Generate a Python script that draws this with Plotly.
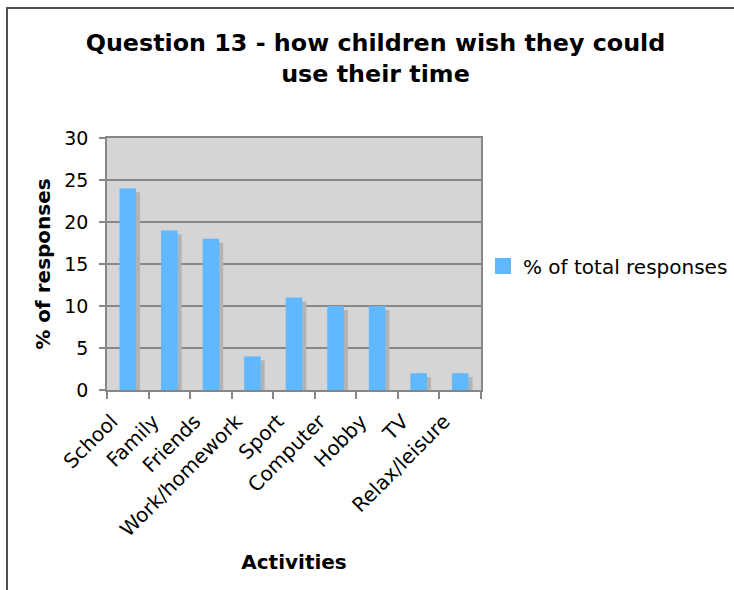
import plotly.graph_objects as go

categories = ["School", "Family", "Friends", "Work/homework", "Sport",
              "Computer", "Hobby", "TV", "Relax/leisure"]
values = [24, 19, 18, 4, 11, 10, 10, 2, 2]
series_name = "% of total responses"
y_ticks = [0, 5, 10, 15, 20, 25, 30]

W, H = 734, 590
L, R, T, B = 107, 253, 138, 200
pw, ph = W - L - R, H - T - B

FONT = "DejaVu Sans, Verdana, sans-serif"
BAR = "#60b8ff"
SHADOW = "#b3b3b3"
BG = "#d5d5d5"
GRID = "#878787"

fig = go.Figure()
# drop shadow behind bars (same values, shifted)
fig.add_trace(go.Bar(
    x=categories, y=values, base=-0.47, width=0.4, offset=-0.104,
    marker=dict(color=SHADOW, line=dict(width=0)),
    showlegend=False, hoverinfo="skip"))
fig.add_trace(go.Bar(
    x=categories, y=values, width=0.4, offset=-0.2, name=series_name,
    marker=dict(color=BAR, line=dict(width=0)), showlegend=False,
    legendgroup="s"))
# legend entry with a larger square swatch
fig.add_trace(go.Scatter(
    x=[None], y=[None], mode="markers", name=series_name, legendgroup="s",
    marker=dict(symbol="square", size=16, color=BAR), showlegend=True))

def px_x(p):
    return (p - L) / pw

def px_y(p):
    return (H - B - p) / ph

fig.update_layout(
    width=W, height=H,
    margin=dict(l=L, r=R, t=T, b=B, autoexpand=False),
    barmode="overlay",
    paper_bgcolor="white", plot_bgcolor=BG,
    font=dict(family=FONT, color="black", size=19),
    title=dict(text="<b>Question 13 - how children wish they could<br>use their time</b>",
               x=px_x(375.5), xref="paper", xanchor="center",
               y=1 - 51 / H, yref="container", yanchor="middle",
               font=dict(family=FONT, size=23.8, color="black")),
    legend=dict(x=px_x(483), xanchor="left", y=px_y(266), yanchor="middle",
                font=dict(family=FONT, size=20), bgcolor="rgba(0,0,0,0)"),
    showlegend=True,
    xaxis=dict(
        type="category", range=[-0.5, len(categories) - 0.5],
        tickangle=-45, tickfont=dict(size=20), tickson="boundaries",
        ticks="outside", ticklen=7, tickcolor=GRID, tickwidth=1.5,
        ticklabelstandoff=10, ticklabelshift=-16,
        showline=True, linecolor=GRID, linewidth=1.5, mirror=True,
        showgrid=False,
        title=dict(text="<b>Activities</b>", font=dict(size=20), standoff=15),
    ),
    yaxis=dict(
        range=[0, 30], tickvals=y_ticks, ticks="outside", ticklen=6,
        tickcolor=GRID, tickwidth=1.5, tickfont=dict(size=19),
        ticklabelstandoff=7,
        showline=True, linecolor=GRID, linewidth=1.5, mirror=True,
        showgrid=True, gridcolor=GRID, gridwidth=1.5, zeroline=False,
        title=dict(text="<b>% of responses</b>", font=dict(size=20), standoff=8),
    ),
    shapes=[dict(type="rect", xref="paper", yref="paper",
                 x0=px_x(7), x1=px_x(760), y0=px_y(620), y1=px_y(8),
                 line=dict(color="#505050", width=2), fillcolor="rgba(0,0,0,0)",
                 layer="below")],
)

fig.write_html("out.html")
